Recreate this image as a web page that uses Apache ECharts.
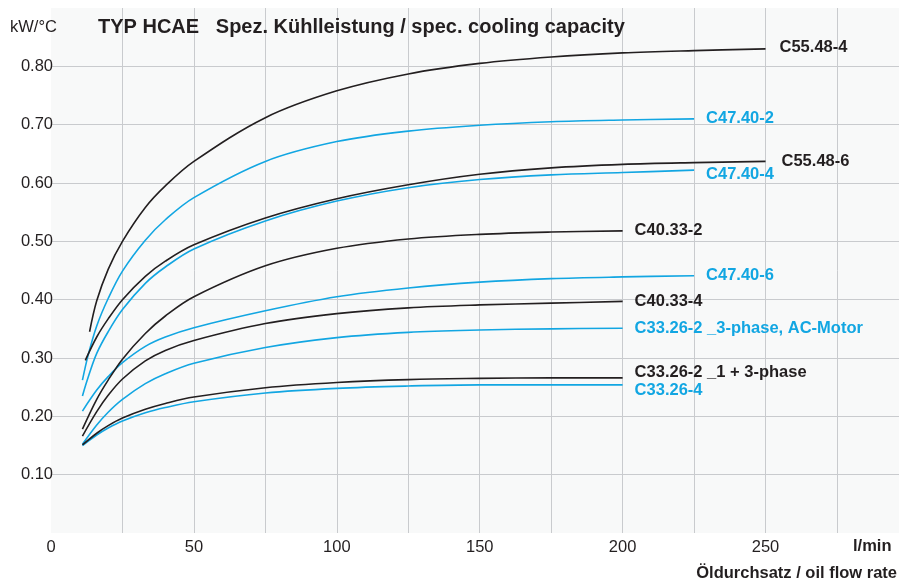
<!DOCTYPE html>
<html>
<head>
<meta charset="utf-8">
<title>TYP HCAE</title>
<script src="https://cdn.jsdelivr.net/npm/echarts@6/dist/echarts.min.js"></script>
<style>
  html, body { margin: 0; padding: 0; background: #fff; }
  #chart { width: 899px; height: 583px; }
</style>
</head>
<body>
<div id="chart"></div>
<script>
// flow rate (l/min) and specific cooling capacity (kW/°C)
const xC55_48_4 = [13.5, 16, 20, 25, 33, 40, 50, 75, 100, 125, 150, 175, 200, 225, 250];
const yC55_48_4 = [0.345, 0.398, 0.452, 0.500, 0.558, 0.595, 0.637, 0.712, 0.758, 0.787, 0.805, 0.816, 0.823, 0.827, 0.830];

const xC47_40_2 = [11, 13, 16, 20, 25, 33, 40, 50, 75, 100, 125, 150, 175, 200, 225];
const yC47_40_2 = [0.262, 0.305, 0.355, 0.402, 0.449, 0.502, 0.537, 0.575, 0.637, 0.671, 0.689, 0.699, 0.705, 0.708, 0.710];

const xC55_48_6 = [12, 16, 20, 25, 33, 40, 50, 75, 100, 125, 150, 175, 200, 225, 250];
const yC55_48_6 = [0.296, 0.336, 0.367, 0.400, 0.440, 0.466, 0.494, 0.540, 0.573, 0.597, 0.615, 0.626, 0.632, 0.635, 0.637];

const xC47_40_4 = [11, 13, 16, 20, 25, 33, 40, 50, 75, 100, 125, 150, 175, 200, 225];
const yC47_40_4 = [0.235, 0.267, 0.308, 0.345, 0.383, 0.428, 0.456, 0.487, 0.535, 0.569, 0.592, 0.606, 0.614, 0.618, 0.622];

const xC40_33_2 = [11, 16, 20, 25, 33, 40, 50, 75, 100, 125, 150, 175, 200];
const yC40_33_2 = [0.178, 0.229, 0.262, 0.298, 0.342, 0.372, 0.405, 0.458, 0.488, 0.504, 0.512, 0.516, 0.518];

const xC47_40_6 = [11, 16, 20, 25, 33, 40, 50, 75, 100, 125, 150, 175, 200, 225];
const yC47_40_6 = [0.209, 0.245, 0.268, 0.292, 0.320, 0.336, 0.352, 0.381, 0.405, 0.420, 0.430, 0.436, 0.439, 0.441];

const xC40_33_4 = [11, 16, 20, 25, 33, 40, 50, 75, 100, 125, 150, 175, 200];
const yC40_33_4 = [0.166, 0.208, 0.236, 0.264, 0.295, 0.313, 0.330, 0.359, 0.376, 0.386, 0.391, 0.394, 0.397];

const xC33_26_2_3ph = [11, 16, 20, 25, 33, 40, 50, 75, 100, 125, 150, 175, 200];
const yC33_26_2_3ph = [0.152, 0.185, 0.207, 0.229, 0.256, 0.273, 0.291, 0.318, 0.335, 0.344, 0.348, 0.350, 0.351];

const xC33_26_2_1 = [11, 16, 20, 25, 33, 40, 50, 75, 100, 125, 150, 175, 200];
const yC33_26_2_1 = [0.151, 0.171, 0.184, 0.197, 0.212, 0.222, 0.233, 0.249, 0.258, 0.263, 0.265, 0.266, 0.266];

const xC33_26_4 = [11, 16, 20, 25, 33, 40, 50, 75, 100, 125, 150, 175, 200];
const yC33_26_4 = [0.150, 0.168, 0.180, 0.192, 0.206, 0.215, 0.225, 0.240, 0.248, 0.252, 0.254, 0.254, 0.254];

const FONT = '"Liberation Sans", Arial, Helvetica, sans-serif';
const BLACK = '#231f20';
const BLUE = '#12a6e2';
const GRID = '#c9cbce';

// builds one curve, label sits at the end of the line
const makeSeries = (name, xs, ys, color, offset) => ({
  name: name,
  type: 'line',
  data: xs.map((x, i) => [x, ys[i]]),
  smooth: 0.35,
  showSymbol: false,
  symbol: 'none',
  lineStyle: { color: color, width: 1.6 },
  itemStyle: { color: color },
  endLabel: {
    show: true,
    formatter: '{a}',
    color: color,
    fontFamily: FONT,
    fontWeight: 'bold',
    fontSize: 16.5,
    distance: 12,
    offset: offset || [0, 0]
  }
});

const chart = echarts.init(document.getElementById('chart'));

const option = {
  animation: false,
  backgroundColor: '#fff',
  textStyle: { fontFamily: FONT },
  title: {
    text: 'TYP HCAE   Spez. Kühlleistung / spec. cooling capacity',
    left: 98,
    top: 17,
    padding: 0,
    textStyle: { color: BLACK, fontSize: 20, fontWeight: 'bold', fontFamily: FONT }
  },
  grid: {
    left: 51,
    right: 0,
    top: 8,
    bottom: 50,
    show: true,
    backgroundColor: '#f8f9f9',
    borderWidth: 0
  },
  xAxis: {
    type: 'value',
    min: 0,
    max: 296.7,
    interval: 25,
    axisLine: { show: false },
    axisTick: { show: false },
    axisLabel: {
      color: BLACK,
      fontSize: 16.5,
      fontFamily: FONT,
      margin: 6,
      showMaxLabel: false,
      formatter: v => (v % 50 === 0 && v <= 250 ? String(v) : '')
    },
    splitLine: {
      show: true,
      lineStyle: {
        width: 1,
        color: ['rgba(0,0,0,0)', GRID, GRID, GRID, GRID, GRID, GRID, GRID, GRID, GRID, GRID, GRID]
      }
    }
  },
  yAxis: {
    type: 'value',
    min: 0,
    max: 0.9,
    interval: 0.1,
    axisLine: { show: false },
    axisTick: { show: false },
    axisLabel: {
      color: BLACK,
      fontSize: 16.5,
      fontFamily: FONT,
      margin: -2,
      formatter: v => (v > 0.05 && v < 0.85 ? v.toFixed(2) : '')
    },
    splitLine: {
      show: true,
      lineStyle: {
        width: 1,
        color: ['rgba(0,0,0,0)', GRID, GRID, GRID, GRID, GRID, GRID, GRID, GRID, 'rgba(0,0,0,0)']
      }
    }
  },
  graphic: [
    {
      type: 'text', left: 10, top: 19,
      style: { text: 'kW/°C', fill: BLACK, font: '16.5px ' + FONT }
    },
    {
      type: 'text', left: 853, top: 538,
      style: { text: 'l/min', fill: BLACK, font: 'bold 16.5px ' + FONT }
    },
    {
      type: 'text', right: 2, top: 565,
      style: { text: 'Öldurchsatz / oil flow rate', fill: BLACK, font: 'bold 16.5px ' + FONT }
    }
  ],
  series: [
    makeSeries('C47.40-2', xC47_40_2, yC47_40_2, BLUE),
    makeSeries('C47.40-4', xC47_40_4, yC47_40_4, BLUE, [0, 4]),
    makeSeries('C47.40-6', xC47_40_6, yC47_40_6, BLUE),
    makeSeries('C33.26-2 _3-phase, AC-Motor', xC33_26_2_3ph, yC33_26_2_3ph, BLUE),
    makeSeries('C33.26-4', xC33_26_4, yC33_26_4, BLUE, [0, 6]),
    makeSeries('C55.48-4', xC55_48_4, yC55_48_4, BLACK, [2, -1]),
    makeSeries('C55.48-6', xC55_48_6, yC55_48_6, BLACK, [4, 0]),
    makeSeries('C40.33-2', xC40_33_2, yC40_33_2, BLACK),
    makeSeries('C40.33-4', xC40_33_4, yC40_33_4, BLACK),
    makeSeries('C33.26-2 _1 + 3-phase', xC33_26_2_1, yC33_26_2_1, BLACK, [0, -5])
  ]
};

chart.setOption(option);
window.addEventListener('resize', () => chart.resize());
</script>
</body>
</html>
